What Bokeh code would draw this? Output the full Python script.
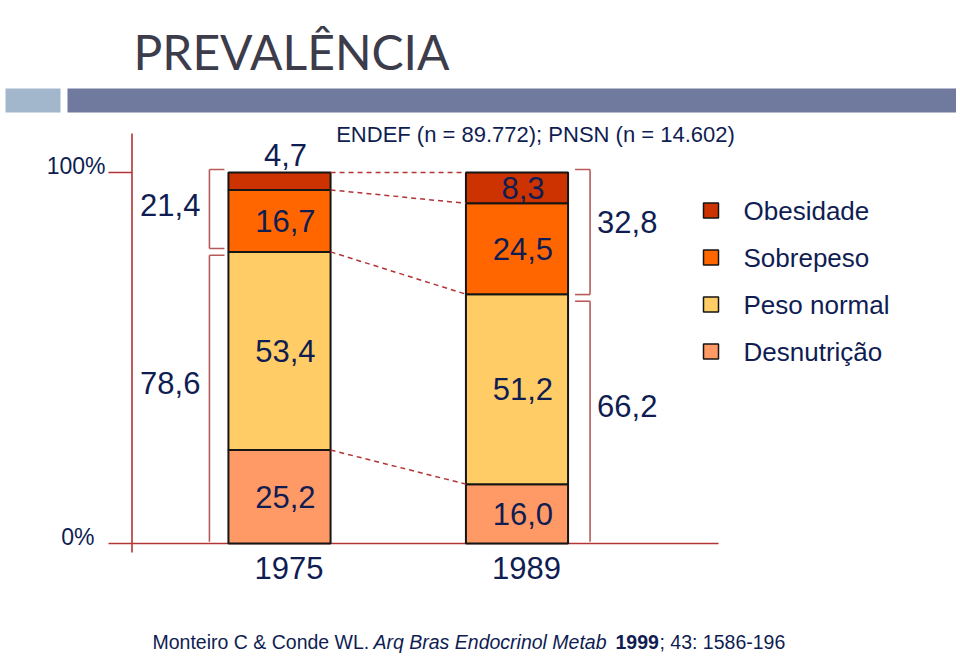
from bokeh.plotting import figure
from bokeh.models import Range1d, ColumnDataSource
from bokeh.core.properties import value
from bokeh.embed import file_html
from bokeh.resources import INLINE

# ---------------- data ----------------
years = ["1975", "1989"]
categories = ["Desnutrição", "Peso normal", "Sobrepeso", "Obesidade"]   # bottom -> top
desnutricao = [25.2, 16.0]
peso_normal = [53.4, 51.2]
sobrepeso = [16.7, 24.5]
obesidade = [4.7, 8.3]
excesso = [21.4, 32.8]          # sobrepeso + obesidade
nao_excesso = [78.6, 66.2]      # desnutrição + peso normal
y_ticks = [0, 100]
y_tick_labels = ["0%", "100%"]
title = "PREVALÊNCIA"
subtitle = "ENDEF (n = 89.772); PNSN (n = 14.602)"
citation_parts = ["Monteiro C & Conde WL.", "Arq Bras Endocrinol Metab", "1999", "; 43: 1586-196"]

# ---------------- styles ----------------
colors = ["#ff9966", "#ffcc66", "#ff6600", "#cc3300"]
NAVY = "#0f1d52"
RED = "#b23434"
BRACKET = "#b85a5a"
FONT = value("Liberation Sans")

# ---------------- page geometry (screenshot pixels) ----------------
W, H, M = 956, 656, 0
X0, DX = 279.0, 237.5      # pixel of first category, pixels per category
Y0, DY = 543.0, 3.71       # pixel of 0 %, pixels per percent


def sx(px):
    return (px - X0) / DX


def sy(py):
    return (Y0 - py) / DY


p = figure(width=W, height=H, x_range=Range1d(sx(M), sx(M + W)),
           y_range=Range1d(sy(M + H), sy(M)), output_backend="svg",
           toolbar_location=None, x_axis_type=None, y_axis_type=None,
           min_border=0)
p.grid.visible = False
p.outline_line_color = None
p.background_fill_color = "white"
p.border_fill_color = "white"

# ---------------- header ----------------
p.quad(left=[sx(5), sx(67)], right=[sx(60), sx(957)], top=[sy(88), sy(88)],
       bottom=[sy(112), sy(112)], fill_color=["#a2b7cc", "#6f7a9e"], line_color=None)
p.text(x=[sx(133)], y=[sy(51)], text=[title], text_font=value("Lato"),
       text_font_size="48px", text_color="#3c3c4a", text_baseline="alphabetic")
p.text(x=[sx(535)], y=[sy(134)], text=[subtitle], text_font=FONT,
       text_font_size="22px", text_color=NAVY, text_align="center",
       text_baseline="middle")

# ---------------- axes ----------------
xs = list(range(len(years)))
bw = 0.43
p.segment(x0=[sx(108), sx(108), sx(131.5)], y0=[0, 100, sy(133)],
          x1=[sx(718), sx(131.5), sx(131.5)], y1=[0, 100, sy(552)],
          line_color=RED, line_width=1.6)
p.text(x=[sx(94), sx(105)], y=[t + 1.8 for t in y_ticks], text=y_tick_labels,
       text_font=FONT, text_font_size="23px", text_color=NAVY,
       text_align="right", text_baseline="middle")
p.text(x=[i + 0.04 for i in xs], y=[-6.5] * len(xs), text=years, text_font=FONT,
       text_font_size="31px", text_color=NAVY, text_align="center",
       text_baseline="middle")

# ---------------- stacked bars ----------------
src = ColumnDataSource(dict(x=xs, **{categories[0]: desnutricao, categories[1]: peso_normal,
                                     categories[2]: sobrepeso, categories[3]: obesidade}))
p.vbar_stack(categories, x="x", width=bw, color=colors, line_color="#151515",
             line_width=2, source=src)

# dashed connectors between the bars at every boundary
series = [desnutricao, peso_normal, sobrepeso, obesidade]
cum = [[0.0, 0.0]]
for s in series:
    cum.append([cum[-1][j] + s[j] for j in range(2)])
bounds = cum[1:]
p.segment(x0=[xs[0] + bw / 2] * len(bounds), y0=[b[0] for b in bounds],
          x1=[xs[1] - bw / 2] * len(bounds), y1=[b[1] for b in bounds],
          line_color=RED, line_width=1.5, line_dash="5 4")

# segment value labels
lx, ly, lt = [], [], []
for k, s in enumerate(series):
    for j in range(2):
        v = s[j]
        mid = cum[k][j] + v / 2
        if v < 6:
            mid = cum[k + 1][j] + 4.6
        lx.append(xs[j] + 0.025)
        ly.append(mid)
        lt.append(f"{v:.1f}".replace(".", ","))
p.text(x=lx, y=ly, text=lt, text_font=FONT, text_font_size="31px",
       text_color=NAVY, text_align="center", text_baseline="middle")

# ---------------- brackets ----------------
gap = 0.9
tick = 15 / DX
bx = [xs[0] - bw / 2 - 19 / DX, xs[1] + bw / 2 + 22 / DX]
dirs = [1, -1]
sx0, sy0, sx1, sy1 = [], [], [], []
for j in range(2):
    top_u, bot_u = 100.8, nao_excesso[j] + gap
    top_l, bot_l = nao_excesso[j] - gap, 0.5
    x, d = bx[j], dirs[j]
    # upper bracket
    sx0 += [x, x, x]; sy0 += [top_u, top_u, bot_u]
    sx1 += [x, x + d * tick, x + d * tick]; sy1 += [bot_u, top_u, bot_u]
    # lower bracket
    sx0 += [x, x]; sy0 += [top_l, top_l]
    sx1 += [x, x + d * tick]; sy1 += [bot_l, top_l]
p.segment(x0=sx0, y0=sy0, x1=sx1, y1=sy1, line_color=BRACKET, line_width=1.6)

bl_x = [bx[0] - 9 / DX] * 2 + [bx[1] + 7 / DX] * 2
bl_y = [100 - excesso[0] / 2 + 2, nao_excesso[0] / 2 + 4,
        100 - excesso[1] / 2 + 3, nao_excesso[1] / 2 + 4]
bl_t = [f"{v:.1f}".replace(".", ",") for v in (excesso[0], nao_excesso[0], excesso[1], nao_excesso[1])]
p.text(x=bl_x[:2], y=bl_y[:2], text=bl_t[:2], text_font=FONT, text_font_size="31px",
       text_color=NAVY, text_align="right", text_baseline="middle")
p.text(x=bl_x[2:], y=bl_y[2:], text=bl_t[2:], text_font=FONT, text_font_size="31px",
       text_color=NAVY, text_align="left", text_baseline="middle")

# ---------------- legend ----------------
leg_names = categories[::-1]
leg_cols = colors[::-1]
leg_y = [sy(210 + 47 * i) for i in range(len(leg_names))]
p.scatter(x=[sx(710.5)] * 4, y=leg_y, marker="square", size=15, fill_color=leg_cols,
          line_color="#151515", line_width=1.5)
p.text(x=[sx(743)] * 4, y=leg_y, text=leg_names, text_font=FONT, text_font_size="26px",
       text_color=NAVY, text_baseline="middle")

# ---------------- citation ----------------
cy = sy(641)
p.text(x=[sx(152)], y=[cy], text=[citation_parts[0]], text_font=FONT, text_font_size="19.5px",
       text_color=NAVY, text_baseline="middle")
p.text(x=[sx(373)], y=[cy], text=[citation_parts[1]], text_font=FONT, text_font_size="19.5px",
       text_font_style="italic", text_color=NAVY, text_baseline="middle")
p.text(x=[sx(615)], y=[cy], text=[citation_parts[2]], text_font=FONT, text_font_size="19.5px",
       text_font_style="bold", text_color=NAVY, text_baseline="middle")
p.text(x=[sx(659)], y=[cy], text=[citation_parts[3]], text_font=FONT, text_font_size="19.5px",
       text_color=NAVY, text_baseline="middle")

open("out.html", "w").write(file_html(p, INLINE))
